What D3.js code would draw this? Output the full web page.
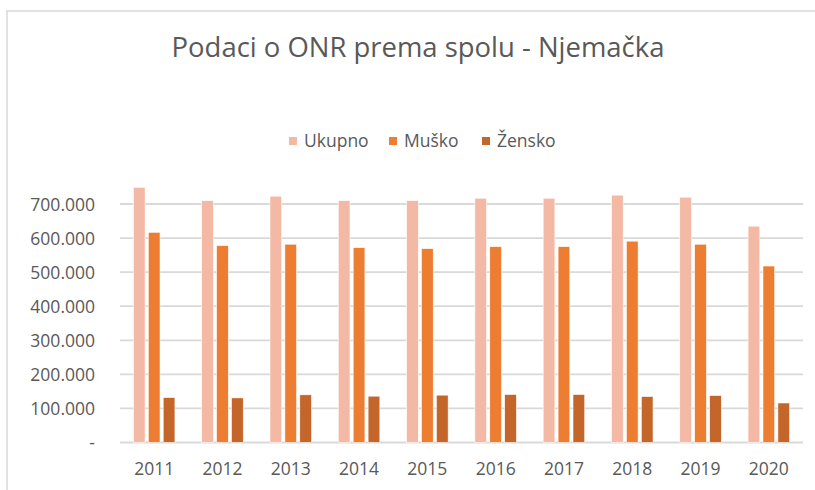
<!DOCTYPE html>
<html>
<head>
<meta charset="utf-8">
<script src="https://cdn.jsdelivr.net/npm/d3@7"></script>
<style>
  html, body { margin: 0; padding: 0; background: #fff; }
  text { font-family: "Open Sans", "Liberation Sans", sans-serif; fill: #595959; }
</style>
</head>
<body>
<div class="chart-container"></div>
<script>
//! DATA
const years = ['2011', '2012', '2013', '2014', '2015', '2016', '2017', '2018', '2019', '2020']
const seriesNames = ['Ukupno', 'Muško', 'Žensko']
const ukupno = [749000, 710000, 723000, 710000, 710000, 717000, 717000, 726000, 720000, 635000]
const musko  = [617000, 578000, 582000, 572000, 569000, 575000, 575000, 591000, 582000, 518000]
const zensko = [132000, 131000, 140000, 136000, 139000, 141000, 141000, 135000, 138000, 116000]
const yTicks = [0, 100000, 200000, 300000, 400000, 500000, 600000, 700000]
const colors = ['#F4B9A5', '#ED7D31', '#C4652A']

//! CONSTS
const width = 815
const height = 490
const plot = { left: 120, right: 803, top: 170, bottom: 442.5 }
const labelSize = '17.5px'

const svg = d3.select('.chart-container')
  .append('svg')
  .attr('width', width)
  .attr('height', height)

// chart frame
svg.append('rect')
  .attr('x', 7).attr('y', 11)
  .attr('width', width + 10).attr('height', height + 10)
  .attr('fill', 'none')
  .attr('stroke', '#D9D9D9')
  .attr('stroke-width', 1.5)

//! TITLE
const title = svg.append('text')
  .attr('x', 418).attr('y', 57)
  .attr('text-anchor', 'middle')
  .style('font-size', '24px')
  .text('Podaci o ONR prema spolu - Njemačka')
// squeeze to the reference width
const tw = title.node().getComputedTextLength()
title.style('font-size', (24 * 493 / tw) + 'px')

//! SCALES
const xScale = d3.scaleBand()
  .domain(years)
  .range([plot.left, plot.right])

const yScale = d3.scaleLinear()
  .domain([0, 700000])
  .range([plot.bottom, plot.bottom - 7 * 34.07])

const barW = xScale.bandwidth() * 0.172
const step = barW * 1.27

//! GRID
svg.append('g')
  .selectAll('line')
  .data(yTicks)
  .enter()
  .append('line')
  .attr('x1', plot.left).attr('x2', plot.right)
  .attr('y1', d => yScale(d)).attr('y2', d => yScale(d))
  .attr('stroke', '#D9D9D9')
  .attr('stroke-width', 1.8)

//! AXES
const yAxis = d3.axisLeft(yScale)
  .tickValues(yTicks)
  .tickSize(0)
  .tickPadding(0)
  .tickFormat(d => d === 0 ? '-' : d3.format(',')(d).replace(/,/g, '.'))

svg.append('g')
  .attr('transform', 'translate(95,0)')
  .call(yAxis)
  .call(g => g.select('.domain').remove())
  .call(g => g.selectAll('text')
    .attr('dy', '0.35em')
    .style('font-size', labelSize)
    .style('font-family', '"Open Sans", sans-serif')
    .attr('fill', '#595959'))

const xAxis = d3.axisBottom(xScale)
  .tickSize(0)
  .tickPadding(0)

svg.append('g')
  .attr('transform', 'translate(0,469)')
  .call(xAxis)
  .call(g => g.select('.domain').remove())
  .call(g => g.selectAll('text')
    .attr('dy', '0.35em')
    .style('font-size', labelSize)
    .style('font-family', '"Open Sans", sans-serif')
    .attr('fill', '#595959'))

//! BARS
const allSeries = [ukupno, musko, zensko]
allSeries.forEach((vals, s) => {
  svg.append('g')
    .selectAll('rect')
    .data(vals)
    .enter()
    .append('rect')
    .attr('x', (d, i) => xScale(years[i]) + xScale.bandwidth() / 2 + (s - 1) * step - barW / 2)
    .attr('y', d => yScale(d))
    .attr('width', barW)
    .attr('height', d => yScale(0) - yScale(d))
    .attr('fill', colors[s])
    .attr('stroke', '#fff')
    .attr('stroke-width', 0.6)
})

//! LEGEND
const legendX = [289, 389, 482]
const legend = svg.append('g')
seriesNames.forEach((name, i) => {
  legend.append('rect')
    .attr('x', legendX[i]).attr('y', 137)
    .attr('width', 8).attr('height', 8)
    .attr('fill', colors[i])
  legend.append('text')
    .attr('x', legendX[i] + 15).attr('y', 141)
    .attr('dy', '0.35em')
    .style('font-size', labelSize)
    .text(name)
})
</script>
</body>
</html>
